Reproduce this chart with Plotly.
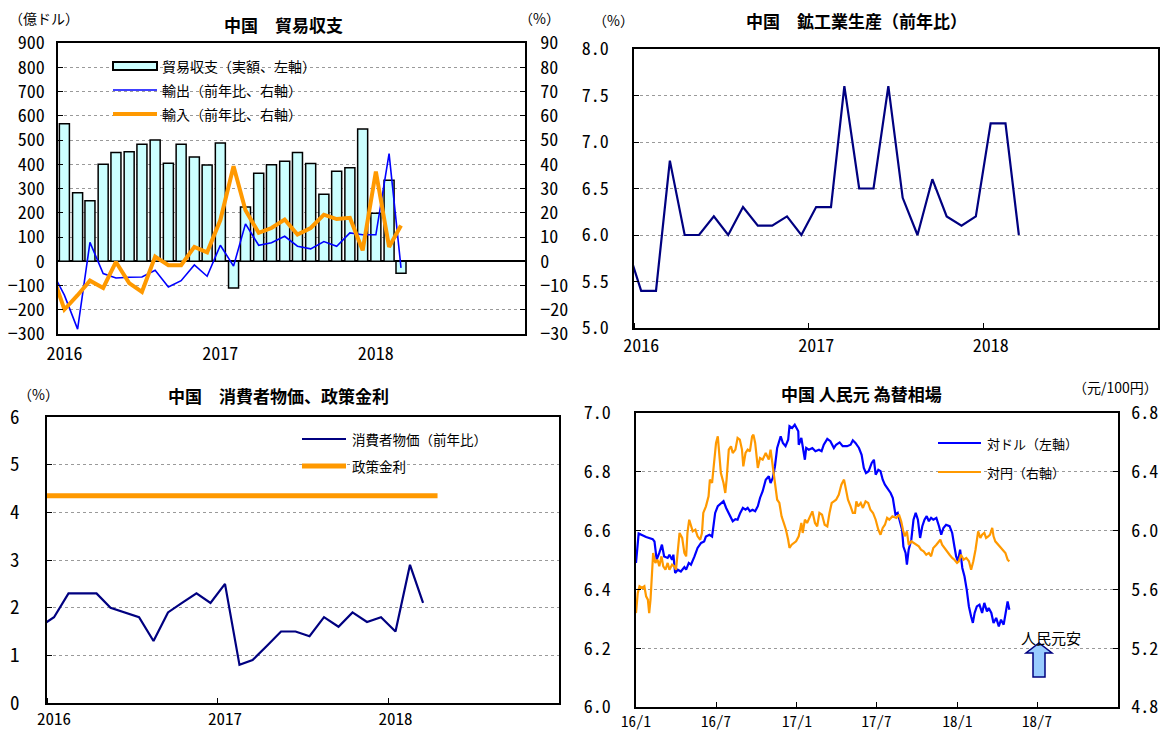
import pandas as pd
import plotly.graph_objects as go

W, H = 1163, 731


def fx(p):
    return p / W


def fy(p):
    return 1 - p / H


# ---------------- data ----------------
# Panel 1: trade balance (億ドル) and export / import growth (%)
trade_months = ["2016-01", "2016-02", "2016-03", "2016-04", "2016-05", "2016-06",
                "2016-07", "2016-08", "2016-09", "2016-10", "2016-11", "2016-12",
                "2017-01", "2017-02", "2017-03", "2017-04", "2017-05", "2017-06",
                "2017-07", "2017-08", "2017-09", "2017-10", "2017-11", "2017-12",
                "2018-01", "2018-02", "2018-03"]
trade_balance = [567, 282, 249, 400, 448, 452, 482, 500, 404, 482, 430, 397,
                 488, -110, 224, 363, 398, 412, 448, 403, 276, 371, 386, 545,
                 198, 334, -49]
growth_months = ["2015-12"] + trade_months
export_yoy = [-3.5, -14, -28, 7.8, -5.1, -6.9, -6.6, -6.5, -3.7, -10.6, -8, -1.5, -6.2,
              6.6, -2, 15.4, 6.6, 7.6, 10.3, 6.2, 5.1, 8.1, 6.2, 11.7, 10.9,
              10.9, 44.4, -2.7]
import_yoy = [-4, -19.9, -14, -8, -11, -0.3, -9, -12.6, 1.9, -1.6, -1.6, 5.9, 3.7,
              17, 39.2, 21, 11.7, 13.7, 17.2, 11, 13.7, 19.2, 17.4, 17.9, 4.5,
              37, 5.9, 14.7]

# Panel 2: industrial production (% y/y)
ip_months = growth_months
ip_yoy = [5.9, 5.4, 5.4, 6.8, 6.0, 6.0, 6.2, 6.0, 6.3, 6.1, 6.1, 6.2, 6.0,
          6.3, 6.3, 7.6, 6.5, 6.5, 7.6, 6.4, 6.0, 6.6, 6.2, 6.1, 6.2,
          7.2, 7.2, 6.0]

# Panel 3: CPI (% y/y) and policy rate (%)
cpi_months = growth_months
cpi_yoy = [1.6, 1.8, 2.3, 2.3, 2.3, 2.0, 1.9, 1.8, 1.3, 1.9, 2.1, 2.3, 2.1,
           2.5, 0.8, 0.9, 1.2, 1.5, 1.5, 1.4, 1.8, 1.6, 1.9, 1.7, 1.8,
           1.5, 2.9, 2.1]
rate_months = growth_months + ["2018-04"]
policy_rate = [4.35, 4.35, 4.35, 4.35, 4.35, 4.35, 4.35, 4.35, 4.35, 4.35,
               4.35, 4.35, 4.35, 4.35, 4.35, 4.35, 4.35, 4.35, 4.35, 4.35,
               4.35, 4.35, 4.35, 4.35, 4.35, 4.35, 4.35, 4.35, 4.35]

# Panel 4: exchange rates (days since 2016-01-01)
usd_days = [0, 6, 23, 38, 42, 47, 53, 59, 64, 72, 76, 82, 85, 89, 95, 102, 110, 114,
            120, 125, 133, 140, 148, 155, 159, 167, 173, 176, 180, 186, 193, 199,
            205, 212, 220, 226, 231, 237, 243, 249, 254, 259, 265, 271, 277, 282,
            288, 295, 302, 306, 311, 316, 321, 329, 334, 340, 346, 349, 355, 361,
            366, 369, 370, 376, 379, 384, 387, 393, 401, 408, 416, 422, 427, 435,
            442, 450, 455, 463, 470, 480, 488, 493, 499, 507, 513, 518, 523, 529,
            536, 541, 545, 551, 556, 561, 566, 571, 579, 584, 590, 595, 599, 605,
            608, 613, 616, 620, 626, 631, 636, 641, 646, 651, 656, 661, 666, 671,
            676, 683, 689, 694, 699, 705, 713, 719, 724, 728, 732, 737, 742, 747,
            752, 757, 762, 766, 770, 775, 781, 787, 792, 798, 802, 808, 813, 819,
            825, 830, 836, 840, 843, 845, 849]
usd_cny = [6.490, 6.590, 6.578, 6.571, 6.563, 6.501, 6.524, 6.552, 6.512, 6.507,
           6.518, 6.501, 6.518, 6.456, 6.467, 6.461, 6.476, 6.467, 6.490, 6.484,
           6.512, 6.541, 6.558, 6.563, 6.580, 6.586, 6.580, 6.609, 6.660, 6.683,
           6.694, 6.700, 6.677, 6.654, 6.632, 6.639, 6.637, 6.660, 6.677, 6.671,
           6.677, 6.666, 6.671, 6.666, 6.683, 6.711, 6.734, 6.773, 6.785, 6.762,
           6.779, 6.819, 6.881, 6.921, 6.898, 6.887, 6.909, 6.955, 6.949, 6.960,
           6.949, 6.938, 6.892, 6.915, 6.887, 6.841, 6.881, 6.875, 6.881, 6.870,
           6.875, 6.870, 6.892, 6.912, 6.904, 6.881, 6.892, 6.900, 6.887, 6.887,
           6.892, 6.907, 6.898, 6.881, 6.858, 6.813, 6.796, 6.802, 6.830, 6.841,
           6.790, 6.807, 6.802, 6.773, 6.756, 6.745, 6.728, 6.711, 6.654, 6.660,
           6.637, 6.603, 6.546, 6.524, 6.484, 6.535, 6.569, 6.637, 6.660, 6.637,
           6.575, 6.615, 6.637, 6.649, 6.632, 6.643, 6.637, 6.643, 6.615, 6.586,
           6.609, 6.620, 6.615, 6.592, 6.546, 6.512, 6.495, 6.535, 6.473, 6.444,
           6.399, 6.342, 6.308, 6.286, 6.320, 6.342, 6.348, 6.320, 6.354, 6.325,
           6.337, 6.320, 6.286, 6.303, 6.274, 6.297, 6.280, 6.314, 6.331, 6.359,
           6.331]
jpy_days = [0, 4, 8, 14, 19, 23, 27, 30, 33, 36, 39, 44, 49, 53, 58, 62, 67, 72, 76,
            82, 87, 91, 95, 99, 105, 110, 114, 117, 121, 125, 129, 135, 140, 146,
            150, 153, 159, 165, 168, 173, 178, 182, 186, 190, 193, 199, 203, 206,
            211, 216, 220, 226, 231, 236, 241, 244, 249, 254, 259, 264, 267, 271,
            277, 282, 288, 295, 302, 306, 310, 313, 317, 321, 326, 331, 336, 341,
            346, 349, 354, 359, 364, 370, 376, 379, 384, 389, 395, 401, 407, 412,
            417, 423, 429, 435, 440, 445, 450, 455, 461, 467, 473, 478, 482, 488,
            493, 498, 501, 505, 511, 516, 522, 528, 533, 539, 545, 551, 556, 561,
            566, 571, 576, 583, 592, 598, 603, 607, 611, 616, 620, 626, 631, 637,
            643, 648, 654, 660, 666, 671, 676, 683, 689, 692, 696, 701, 707, 713,
            719, 724, 730, 734, 739, 745, 751, 757, 762, 767, 772, 775, 778, 783,
            787, 792, 796, 801, 805, 810, 813, 817, 820, 825, 830, 836, 840, 845,
            849]
jpy_cny = [5.439, 5.576, 5.621, 5.610, 5.621, 5.553, 5.530, 5.439, 5.530, 5.689,
           5.848, 5.780, 5.802, 5.757, 5.825, 5.757, 5.734, 5.780, 5.734, 5.768,
           5.757, 5.734, 5.870, 5.984, 5.950, 5.848, 5.825, 5.984, 6.074, 6.029,
           5.995, 6.006, 5.961, 5.938, 5.984, 6.120, 6.165, 6.233, 6.347, 6.324,
           6.505, 6.596, 6.641, 6.460, 6.392, 6.324, 6.256, 6.347, 6.551, 6.573,
           6.528, 6.551, 6.630, 6.619, 6.551, 6.437, 6.528, 6.551, 6.539, 6.641,
           6.653, 6.596, 6.426, 6.494, 6.483, 6.528, 6.483, 6.551, 6.460, 6.380,
           6.301, 6.210, 6.188, 6.097, 6.052, 6.006, 5.938, 5.882, 5.904, 5.916,
           5.927, 5.961, 6.052, 5.984, 6.074, 6.052, 6.097, 6.131, 6.052, 6.029,
           6.120, 6.108, 6.040, 6.029, 6.120, 6.188, 6.199, 6.210, 6.244, 6.312,
           6.347, 6.267, 6.210, 6.165, 6.120, 6.120, 6.199, 6.165, 6.188, 6.154,
           6.199, 6.188, 6.142, 6.120, 6.074, 6.006, 5.972, 6.018, 6.040, 6.086,
           6.074, 6.097, 6.086, 6.108, 6.063, 6.006, 5.961, 5.995, 5.904, 5.927,
           5.916, 5.904, 5.893, 5.870, 5.859, 5.836, 5.848, 5.825, 5.882, 5.904,
           5.927, 5.938, 5.904, 5.882, 5.859, 5.836, 5.814, 5.802, 5.780, 5.791,
           5.836, 5.802, 5.814, 5.791, 5.734, 5.791, 5.870, 5.950, 5.995, 5.950,
           5.972, 5.984, 5.950, 5.961, 5.972, 6.018, 5.961, 5.927, 5.916, 5.904,
           5.882, 5.859, 5.848, 5.802, 5.791]

year_ticks = ["2016", "2017", "2018"]
fx_tick_labels = ["16/1", "16/7", "17/1", "17/7", "18/1", "18/7"]
fx_tick_dates = ["2016-01-01", "2016-07-01", "2017-01-01", "2017-07-01",
                 "2018-01-01", "2018-07-01"]

# ---------------- helpers ----------------


def mid(months):
    return [pd.Timestamp(m + "-01") + pd.Timedelta(days=15) for m in months]


base = pd.Timestamp("2016-01-01")
usd_x = [base + pd.Timedelta(days=d) for d in usd_days]
jpy_x = [base + pd.Timedelta(days=d) for d in jpy_days]
year_label_pos = [pd.Timestamp(y + "-01-16") for y in year_ticks]

CJK = "Noto Sans CJK JP"
TICK = "Noto Sans Mono CJK JP, Liberation Mono, DejaVu Sans Mono, monospace"
GRID = "#9a9a9a"
XRANGE = ["2016-01-01", "2019-01-01"]


def tf(size):
    return dict(family=TICK, size=size, color="black")


fig = go.Figure()

# Panel 1
fig.add_trace(go.Bar(x=mid(trade_months), y=trade_balance, xaxis="x", yaxis="y",
                     width=23.5 * 86400000, marker=dict(color="#CCFFFF",
                     line=dict(color="black", width=1.5)), name="貿易収支（実額、左軸）"))
fig.add_trace(go.Scatter(x=mid(growth_months), y=export_yoy, xaxis="x", yaxis="y2",
                         mode="lines", line=dict(color="#0000FF", width=1.6),
                         name="輸出（前年比、右軸）"))
fig.add_trace(go.Scatter(x=mid(growth_months), y=import_yoy, xaxis="x", yaxis="y2",
                         mode="lines", line=dict(color="#FF9900", width=4),
                         name="輸入（前年比、右軸）"))
# Panel 2
fig.add_trace(go.Scatter(x=mid(ip_months), y=ip_yoy, xaxis="x2", yaxis="y3",
                         mode="lines", line=dict(color="#000080", width=2.2),
                         name="鉱工業生産"))
# Panel 3
fig.add_trace(go.Scatter(x=mid(rate_months), y=policy_rate, xaxis="x3", yaxis="y4",
                         mode="lines", line=dict(color="#FF9900", width=5),
                         name="政策金利"))
fig.add_trace(go.Scatter(x=mid(cpi_months), y=cpi_yoy, xaxis="x3", yaxis="y4",
                         mode="lines", line=dict(color="#000080", width=2.2),
                         name="消費者物価（前年比）"))
# Panel 4
fig.add_trace(go.Scatter(x=jpy_x, y=jpy_cny, xaxis="x4", yaxis="y6",
                         mode="lines", line=dict(color="#FF9900", width=2.2),
                         name="対円（右軸）"))
fig.add_trace(go.Scatter(x=usd_x, y=usd_cny, xaxis="x4", yaxis="y5",
                         mode="lines", line=dict(color="#0000FF", width=2.2),
                         name="対ドル（左軸）"))

axis_line = dict(showline=True, linecolor="black", linewidth=1.5, automargin=False)
ytick_common = dict(ticks="inside", ticklen=5, tickcolor="black",
                    showgrid=True, gridcolor=GRID, griddash="dot", gridwidth=1,
                    zeroline=False, **axis_line)
minor_year = dict(ticks="inside", ticklen=5, tickcolor="black",
                  dtick="M12", tick0="2016-01-01", showgrid=False)

layout = dict(
    width=W, height=H, margin=dict(l=0, r=0, t=0, b=0, autoexpand=False),
    paper_bgcolor="white", plot_bgcolor="white", showlegend=False,
    # Panel 1
    xaxis=dict(domain=[fx(58), fx(525)], anchor="y", type="date", range=XRANGE,
               tickmode="array", tickvals=year_label_pos, ticktext=year_ticks,
               ticks="", mirror=True, showgrid=False, tickfont=tf(18),
               ticklabelstandoff=3, **axis_line),
    yaxis=dict(domain=[fy(334), fy(43)], anchor="x", range=[-300, 900], dtick=100,
               tickfont=tf(18), ticklabelstandoff=8, **ytick_common),
    yaxis2=dict(overlaying="y", side="right", anchor="x", range=[-30, 90], dtick=10,
                ticks="inside", ticklen=5, tickcolor="black", showgrid=False,
                zeroline=False, tickfont=tf(18), ticklabelstandoff=10, **axis_line),
    # Panel 2
    xaxis2=dict(domain=[fx(634), fx(1158)], anchor="y3", type="date", range=XRANGE,
                tickmode="array", tickvals=year_label_pos, ticktext=year_ticks,
                ticks="", mirror=True, showgrid=False, tickfont=tf(18),
                ticklabelstandoff=1, minor=minor_year, **axis_line),
    yaxis3=dict(domain=[fy(328), fy(49)], anchor="x2", range=[5.0, 8.0], dtick=0.5,
                tickformat=".1f", mirror=True, tickfont=tf(18),
                ticklabelstandoff=20, **ytick_common),
    # Panel 3
    xaxis3=dict(domain=[fx(47), fx(559)], anchor="y4", type="date", range=XRANGE,
                tickmode="array", tickvals=year_label_pos, ticktext=year_ticks,
                ticks="", mirror=True, showgrid=False, tickfont=tf(17),
                ticklabelstandoff=0, minor=minor_year, **axis_line),
    yaxis4=dict(domain=[fy(703), fy(417)], anchor="x3", range=[0, 6], dtick=1,
                mirror=True, tickfont=tf(19), ticklabelstandoff=22, **ytick_common),
    # Panel 4
    xaxis4=dict(domain=[fx(636), fx(1118)], anchor="y5", type="date", range=XRANGE,
                tickmode="array", tickvals=fx_tick_dates, ticktext=fx_tick_labels,
                ticks="inside", ticklen=5, tickcolor="black", mirror=True,
                showgrid=False, tickfont=tf(15), ticklabelstandoff=0, **axis_line),
    yaxis5=dict(domain=[fy(707), fy(413)], anchor="x4", range=[6.0, 7.0], dtick=0.2,
                tickformat=".1f", tickfont=tf(18), ticklabelstandoff=20,
                **ytick_common),
    yaxis6=dict(overlaying="y5", side="right", anchor="x4", range=[4.8, 6.8],
                dtick=0.4, tickformat=".1f", ticks="inside", ticklen=5,
                tickcolor="black", showgrid=False, zeroline=False,
                tickfont=tf(18), ticklabelstandoff=8, **axis_line),
)
fig.update_layout(**layout)
fig.update_layout(yaxis=dict(zeroline=True, zerolinecolor="black", zerolinewidth=1.5))

shapes = []
annotations = []


def rect(x0, y0, x1, y1, fill, line_color=None, lw=0, layer="between"):
    shapes.append(dict(type="rect", xref="paper", yref="paper",
                       x0=fx(x0), x1=fx(x1), y0=fy(y1), y1=fy(y0),
                       fillcolor=fill, layer=layer,
                       line=dict(color=line_color or fill, width=lw)))


def hline(x0, x1, y, color, width):
    shapes.append(dict(type="line", xref="paper", yref="paper",
                       x0=fx(x0), x1=fx(x1), y0=fy(y), y1=fy(y), layer="above",
                       line=dict(color=color, width=width)))


def text(x, y, s, size=13, bold=False, anchor="left", bg=None):
    annotations.append(dict(xref="paper", yref="paper", x=fx(x), y=fy(y),
                            text=f"<b>{s}</b>" if bold else s, showarrow=False,
                            xanchor=anchor, yanchor="middle",
                            bgcolor=bg, font=dict(family=CJK, size=size,
                                                  color="black")))


# titles and units
text(283, 24, "中国　貿易収支", 17, True, "center")
text(856, 21, "中国　鉱工業生産（前年比）", 17, True, "center")
text(278, 395, "中国　消費者物価、政策金利", 17, True, "center")
text(861, 393, "中国 人民元 為替相場", 17, True, "center")
text(44, 18, "（億ドル）", 14, False, "center")
text(539, 18, "（%）", 14, False, "center")
text(613, 20, "（%）", 14, False, "center")
text(38, 394, "（%）", 14, False, "center")
text(1115, 387, "（元/100円）", 14, False, "center")

# legend panel 1
rect(82, 55, 348, 124, "white")
rect(113, 62, 157, 70, "#CCFFFF", "black", 2, layer="above")
hline(113, 157, 90, "#0000FF", 1.6)
hline(113, 157, 114, "#FF9900", 4)
text(160, 66, "貿易収支（実額、左軸）", 14)
text(160, 90, "輸出（前年比、右軸）", 14)
text(160, 114, "輸入（前年比、右軸）", 14)

# legend panel 3
rect(274, 425, 522, 480, "white")
hline(302, 346, 439, "#000080", 2.2)
hline(302, 346, 466, "#FF9900", 5)
text(350, 439, "消費者物価（前年比）", 13.5)
text(350, 466, "政策金利", 13.5)

# legend panel 4
rect(937, 430, 1097, 486, "white")
hline(938, 981, 443, "#0000FF", 2.2)
hline(938, 981, 472, "#FF9900", 2.2)
text(985, 443, "対ドル（左軸）", 13)
text(985, 472, "対円（右軸）", 13)

# arrow annotation panel 4
rect(1017, 626, 1087, 652, "white")
text(1051, 637, "人民元安", 15, False, "center")
ax = [1033, 1033, 1026, 1039, 1052, 1045, 1045]
ay = [677, 653, 653, 643, 653, 653, 677]
path = "M " + " L ".join(f"{fx(a)},{fy(b)}" for a, b in zip(ax, ay)) + " Z"
shapes.append(dict(type="path", xref="paper", yref="paper", path=path,
                   fillcolor="#99CCFF", line=dict(color="#000080", width=1.5),
                   layer="above"))

fig.update_layout(shapes=shapes, annotations=annotations)
fig.write_html("out.html")
